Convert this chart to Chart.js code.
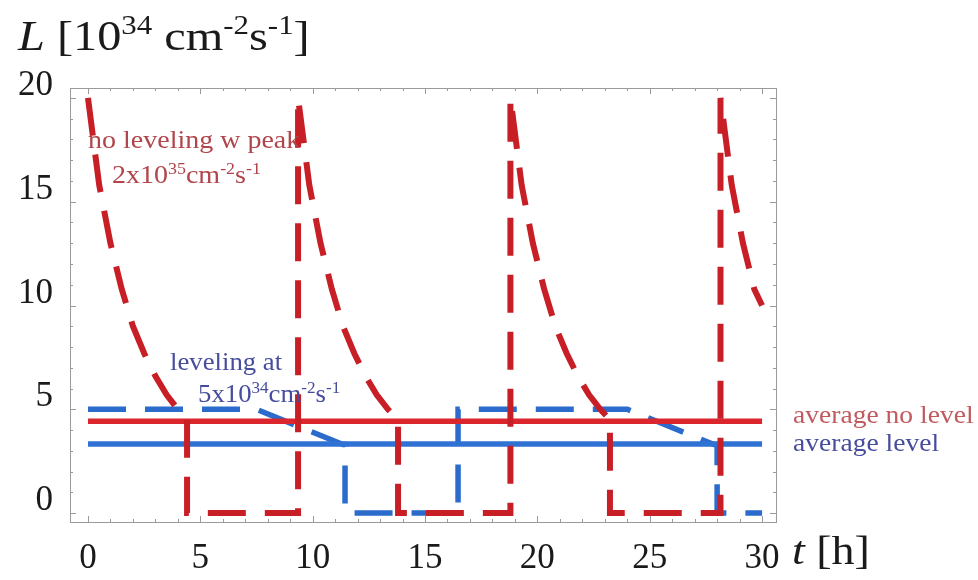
<!DOCTYPE html>
<html>
<head>
<meta charset="utf-8">
<script src="https://cdn.jsdelivr.net/npm/chart.js@4.4.1/dist/chart.umd.min.js"></script>
<style>
  html, body { margin: 0; padding: 0; background: #fff; }
  #wrap { width: 978px; height: 580px; }
</style>
</head>
<body>
<div id="wrap"><canvas id="lumi" width="978" height="580"></canvas></div>
<script>
// time in hours, luminosity in 10^34 cm^-2 s^-1
var noLevelT = [0, 0.5, 1, 1.5, 2, 2.5, 3, 3.5, 4, 4.41, 4.41, 9.35,
  9.35, 9.85, 10.35, 10.85, 11.35, 11.85, 12.35, 12.85, 13.35, 13.8, 13.8, 18.8,
  18.8, 19.3, 19.8, 20.3, 20.8, 21.3, 21.8, 22.3, 22.8, 23.23, 23.23, 28.15,
  28.15, 28.65, 29.15, 29.65, 30];
var noLevelL = [20, 15.8, 13.0, 10.8, 9.0, 7.7, 6.6, 5.7, 5.0, 4.5, 0, 0,
  20, 15.8, 13.0, 10.8, 9.0, 7.7, 6.6, 5.7, 5.0, 4.5, 0, 0,
  20, 15.8, 13.0, 10.8, 9.0, 7.7, 6.6, 5.7, 5.0, 4.5, 0, 0,
  20, 15.8, 13.0, 10.8, 10.0];

var levelT = [0, 7.5, 11.35, 11.44, 11.44, 16.47, 16.47, 24.0, 27.86, 28.0, 28.0, 30];
var levelL = [5, 5, 3.3, 3.3, 0, 0, 5, 5, 3.3, 3.3, 0, 0];

var avgT = [0, 30];
var avgNoLevel = [4.43, 4.43];
var avgLevel = [3.33, 3.33];

var xTicks = [0, 5, 10, 15, 20, 25, 30];
var yTicks = [0, 5, 10, 15, 20];

var serif = "'Liberation Serif', 'DejaVu Serif', serif";

function pts(xs, ys) {
  return xs.map(function (x, i) { return { x: x, y: ys[i] }; });
}

// text made of normal / italic / superscript pieces, a bit stretched sideways
function richText(ctx, x, y, parts, size, color, stretch) {
  ctx.save();
  ctx.translate(x, y);
  ctx.scale(stretch || 1, 1);
  ctx.fillStyle = color;
  ctx.textBaseline = 'alphabetic';
  ctx.textAlign = 'left';
  var cx = 0;
  parts.forEach(function (p) {
    var s = p[1] === 'sup' ? size * 0.64 : size;
    var dy = p[1] === 'sup' ? -size * 0.38 : 0;
    ctx.font = (p[1] === 'i' ? 'italic ' : '') + s + 'px ' + serif;
    ctx.fillText(p[0], cx, dy);
    cx += ctx.measureText(p[0]).width;
  });
  ctx.restore();
}

var framePlugin = {
  id: 'frame',
  afterDraw: function (chart) {
    var ctx = chart.ctx, a = chart.chartArea;
    var sx = chart.scales.x, sy = chart.scales.y;
    ctx.save();
    ctx.strokeStyle = '#9a9a9a';
    ctx.lineWidth = 1;
    ctx.strokeRect(a.left + 0.5, a.top + 0.5, a.right - a.left, a.bottom - a.top);
    ctx.beginPath();
    for (var t = Math.ceil(sx.min); t <= sx.max; t++) {
      var px = Math.round(sx.getPixelForValue(t)) + 0.5;
      var len = t % 5 === 0 ? 6 : 3;
      ctx.moveTo(px, a.bottom); ctx.lineTo(px, a.bottom - len);
      ctx.moveTo(px, a.top); ctx.lineTo(px, a.top + len);
    }
    for (var v = Math.ceil(sy.min); v <= sy.max; v++) {
      var py = Math.round(sy.getPixelForValue(v)) + 0.5;
      var l2 = v % 5 === 0 ? 6 : 3;
      ctx.moveTo(a.left, py); ctx.lineTo(a.left + l2, py);
      ctx.moveTo(a.right, py); ctx.lineTo(a.right - l2, py);
    }
    ctx.stroke();
    ctx.restore();

    // axis titles
    richText(ctx, 18, 50, [['L', 'i'], [' [10', 'n'], ['34', 'sup'], [' cm', 'n'],
      ['-2', 'sup'], ['s', 'n'], ['-1', 'sup'], [']', 'n']], 42, '#1a1a1a', 1.15);
    richText(ctx, 792, 564, [['t', 'i'], [' [h]', 'n']], 40, '#1a1a1a', 1.15);

    // annotations
    var red = '#b0454b', blue = '#474d9e';
    richText(ctx, 88, 148, [['no leveling w peak', 'n']], 25, red, 1.12);
    richText(ctx, 112, 183, [['2x10', 'n'], ['35', 'sup'], ['cm', 'n'], ['-2', 'sup'],
      ['s', 'n'], ['-1', 'sup']], 25, red, 1.12);
    richText(ctx, 170, 370, [['leveling at', 'n']], 25, blue, 1.07);
    richText(ctx, 198, 402, [['5x10', 'n'], ['34', 'sup'], ['cm', 'n'], ['-2', 'sup'],
      ['s', 'n'], ['-1', 'sup']], 25, blue, 1.07);
    richText(ctx, 793, 423, [['average no level', 'n']], 26, '#c05a5e', 1.06);
    richText(ctx, 793, 451, [['average level', 'n']], 26, blue, 1.06);
  }
};

var ctx = document.getElementById('lumi');
var chartGraph = new Chart(ctx, {
  type: 'line',
  data: {
    datasets: [{
      label: 'no leveling',
      data: pts(noLevelT, noLevelL),
      borderColor: '#c81e26',
      borderWidth: 6,
      borderDash: [38, 19]
    }, {
      label: 'average no level',
      data: pts(avgT, avgNoLevel),
      borderColor: '#dc262d',
      borderWidth: 5.5
    }, {
      label: 'average level',
      data: pts(avgT, avgLevel),
      borderColor: '#2f72d4',
      borderWidth: 5.5
    }, {
      label: 'leveling',
      data: pts(levelT, levelL),
      borderColor: '#2a6bcb',
      borderWidth: 5.5,
      borderDash: [38, 19]
    }]
  },
  options: {
    responsive: false,
    animation: false,
    layout: { padding: { top: 88, right: 202, left: 0, bottom: 0 } },
    elements: { point: { radius: 0 }, line: { tension: 0, borderCapStyle: 'butt' } },
    plugins: { legend: { display: false }, tooltip: { enabled: false } },
    scales: {
      x: {
        type: 'linear',
        min: -0.80,
        max: 30.62,
        afterFit: function (s) { s.height = 58; },
        afterBuildTicks: function (s) { s.ticks = xTicks.map(function (v) { return { value: v }; }); },
        grid: { display: false },
        border: { display: false },
        ticks: { padding: 8, color: '#1a1a1a', font: { family: serif, size: 35 }, maxRotation: 0 }
      },
      y: {
        type: 'linear',
        min: -0.43,
        max: 20.48,
        afterFit: function (s) { s.width = 70; },
        afterBuildTicks: function (s) { s.ticks = yTicks.map(function (v) { return { value: v }; }); },
        grid: { display: false },
        border: { display: false },
        ticks: { padding: 9, labelOffset: -12, color: '#1a1a1a', font: { family: serif, size: 35 } }
      }
    }
  },
  plugins: [framePlugin]
});
</script>
</body>
</html>
